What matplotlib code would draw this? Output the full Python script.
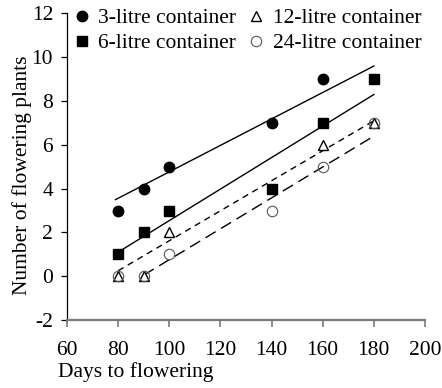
import matplotlib
matplotlib.use("Agg")
import matplotlib.pyplot as plt

plt.rcParams['font.family'] = ['Liberation Serif', 'DejaVu Serif']
plt.rcParams['lines.scale_dashes'] = False

# Data
series_names = ["3-litre container", "6-litre container", "12-litre container", "24-litre container"]
x_3l = [80, 90, 100, 140, 160]
y_3l = [3, 4, 5, 7, 9]
x_6l = [80, 90, 100, 140, 160, 180]
y_6l = [1, 2, 3, 4, 7, 9]
x_12l = [80, 90, 100, 160, 180]
y_12l = [0, 0, 2, 6, 7]
x_24l = [80, 90, 100, 140, 160, 180]
y_24l = [0, 0, 1, 3, 5, 7]

# Fitted regression lines (endpoints)
fit_x = [[79, 180], [80, 180], [80, 180], [90, 180]]
fit_y = [[3.5, 9.6], [1.1, 8.3], [0.25, 7.1], [0.05, 6.4]]

x_ticks = [60, 80, 100, 120, 140, 160, 180, 200]
y_ticks = [-2, 0, 2, 4, 6, 8, 10, 12]

fig = plt.figure(figsize=(4.42, 3.88), dpi=100)
ax = fig.add_axes([67/442, 1-320/388, (425-67)/442, (320-13.5)/388])

FS = 15.5

# regression lines
ax.plot(fit_x[0], fit_y[0], color='black', lw=1.0)
ax.plot(fit_x[1], fit_y[1], color='black', lw=1.0)
ax.plot(fit_x[2], fit_y[2], color='black', lw=1.0, dashes=(4.5, 3.5))
ax.plot(fit_x[3], fit_y[3], color='black', lw=1.0, dashes=(8.5, 4.5))

# points
ax.plot(x_3l, y_3l, 'o', color='black', ms=7.5, ls='none', label=series_names[0], zorder=3)
ax.plot(x_6l, y_6l, 's', color='black', ms=7.2, ls='none', label=series_names[1], zorder=3)
ax.plot(x_12l, y_12l, '^', mfc='white', mec='black', mew=1.0, ms=6.5, ls='none', label=series_names[2], zorder=4)
ax.plot(x_24l, y_24l, 'o', mfc='none', mec='#555555', mew=0.8, ms=7.5, ls='none', label=series_names[3], zorder=4)

ax.set_xlim(60, 200)
ax.set_ylim(-2, 12)
ax.set_xticks(x_ticks)
ax.set_yticks(y_ticks)
ax.set_xticklabels([str(v) for v in x_ticks], fontsize=FS)
ax.set_yticklabels([str(v) for v in y_ticks], fontsize=FS)

for s in ['top', 'right']:
    ax.spines[s].set_visible(False)
ax.spines['left'].set_color('black')
ax.spines['left'].set_linewidth(0.9)
ax.spines['bottom'].set_color('#7a7a7a')
ax.spines['bottom'].set_linewidth(1.6)

ax.tick_params(axis='y', direction='out', length=4, width=0.9, color='black', pad=6)
ax.tick_params(axis='x', direction='out', length=5, width=1.2, color='#7a7a7a', pad=10)

ax.set_ylabel("Number of flowering plants", fontsize=FS)
ax.yaxis.set_label_coords(-0.097, 0.473)
ax.set_xlabel("Days to flowering", fontsize=FS)
ax.xaxis.set_label_coords(0.193, -0.138)

leg = ax.legend(loc='upper left', bbox_to_anchor=(71/442, 1-8/388), bbox_transform=fig.transFigure,
                ncol=2, frameon=False, fontsize=FS, handlelength=1.0, handletextpad=0.25,
                columnspacing=0.45, labelspacing=0.24, borderpad=0, borderaxespad=0)

fig.savefig("out.png", dpi=100)
